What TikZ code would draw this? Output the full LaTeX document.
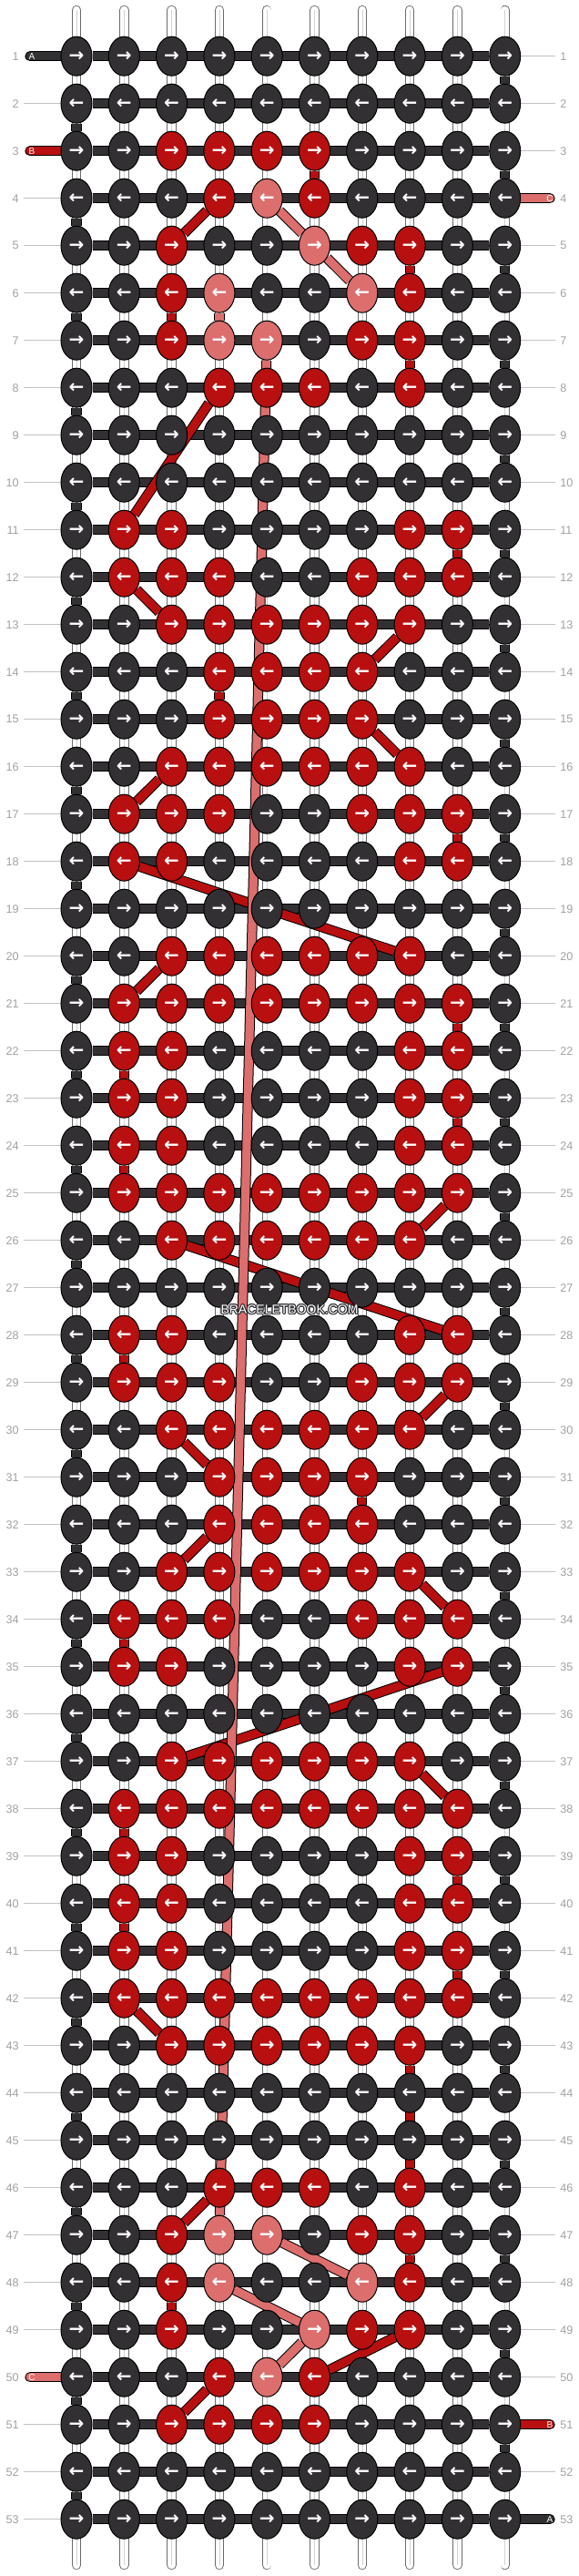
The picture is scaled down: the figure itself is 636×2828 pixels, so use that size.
\documentclass[tikz,border=0pt]{standalone}
\usepackage{fontspec}
\setmainfont{Liberation Sans}
\newfontfamily\arrowfont{DejaVu Sans}
\usepackage{contour}
\contourlength{0.45pt}
\usetikzlibrary{shapes.geometric}

\definecolor{knotdark}{HTML}{323033}
\definecolor{knotred}{HTML}{B80F10}
\definecolor{knotpink}{HTML}{DC6E6E}
\definecolor{labgray}{HTML}{A0A0A0}
\definecolor{labline}{HTML}{C2C2C2}
\definecolor{warpline}{HTML}{6A6A6A}

\pgfdeclarelayer{back}
\pgfdeclarelayer{mid}
\pgfsetlayers{back,mid,main}

% colour of knot (row, column)
\newcommand{\setknot}[3]{\expandafter\xdef\csname kc-#1-#2\endcsname{#3}}

\begin{document}
\begin{tikzpicture}[
    x=0.5pt, y=-0.5pt,
    knot/.style={ellipse,draw=black,line width=0.5pt,minimum width=17pt,minimum height=21.5pt,
        inner sep=0pt,text=white,font=\arrowfont\bfseries\fontsize{10}{10}\selectfont},
    rowlab/.style={text=labgray,font=\fontsize{6.3}{7}\selectfont,inner xsep=2.5pt,inner ysep=0pt},
    labrule/.style={draw=labline,line width=0.5pt},
    thread/.style={line width=0.5pt,draw=black,double distance=4.6pt},
    darkthread/.style={thread,double=knotdark},
    redthread/.style={thread,double=knotred},
    pinkthread/.style={thread,double=knotpink},
    stub/.style={line cap=round},
    stublab/.style={text=white,font=\fontsize{5}{5}\selectfont,inner sep=0pt},
    warp/.style={line width=0.45pt,draw=warpline,double=white,double distance=4.3pt,line cap=round},
    warpmid/.style={draw=gray!35,line width=0.3pt},
    wmtext/.style={font=\fontsize{7}{7}\selectfont,text=white,inner sep=0pt},
]
\useasboundingbox (0,0) rectangle (636,2828);

% knot colours
\foreach \r/\cols in {3/{3,4,5,6},4/{4,6},5/{3,7,8},6/{3,8},7/{3,7,8},8/{4,5,6,8},
    11/{2,3,8,9},12/{2,3,4,7,8,9},13/{3,...,8},14/{4,...,7},15/{4,...,7},16/{3,...,8},
    17/{2,3,4,7,8,9},18/{2,3,8,9},20/{3,...,8},21/{2,...,9},22/{2,3,8,9},23/{2,3,8,9},
    24/{2,3,8,9},25/{2,...,9},26/{3,...,8},28/{2,3,8,9},29/{2,3,4,7,8,9},30/{3,...,8},
    31/{4,...,7},32/{4,...,7},33/{3,...,8},34/{2,3,4,7,8,9},35/{2,3,8,9},37/{3,...,8},
    38/{2,...,9},39/{2,3,8,9},40/{2,3,8,9},41/{2,3,8,9},42/{2,...,9},43/{3,...,8},
    46/{4,5,6,8},47/{3,7,8},48/{3,8},49/{3,7,8},50/{4,6},51/{3,4,5,6}}
    {\foreach \c in \cols {\setknot{\r}{\c}{knotred}}}
\foreach \r/\cols in {4/{5},5/{6},6/{4,7},7/{4,5},47/{4,5},48/{4,7},49/{6},50/{5}}
    {\foreach \c in \cols {\setknot{\r}{\c}{knotpink}}}

% knots
\foreach \r in {1,...,53} {
    \pgfmathtruncatemacro\odd{mod(\r,2)}
    \ifnum\odd=1 \def\arr{→}\else\def\arr{←}\fi
    \foreach \c in {1,...,10} {
        \ifcsname kc-\r-\c\endcsname \edef\kcol{\csname kc-\r-\c\endcsname}\else\def\kcol{knotdark}\fi
        \node[knot,fill=\kcol] (k-\r-\c) at ({84+52.3*(\c-1)},{61.7+52*(\r-1)}) {\arr};
    }
}

% row numbers
\foreach \r in {1,...,53} {
    \node[rowlab,anchor=east] (ll-\r) at (26,{61.7+52*(\r-1)}) {\r};
    \node[rowlab,anchor=west] (lr-\r) at (610,{61.7+52*(\r-1)}) {\r};
}

% string ends
\coordinate (A-in) at (33,0 |- k-1-1);
\coordinate (B-in) at (33,0 |- k-3-1);
\coordinate (C-in) at (604,0 |- k-4-10);
\coordinate (C-out) at (33,0 |- k-50-1);
\coordinate (B-out) at (604,0 |- k-51-10);
\coordinate (A-out) at (604,0 |- k-53-10);

\begin{pgfonlayer}{back}
    \foreach \c in {1,...,10} {
        \coordinate (wt-\c) at ({84+52.3*(\c-1)},11);
        \coordinate (wb-\c) at ({84+52.3*(\c-1)},2816);
        \draw[warp] (wt-\c) -- (wb-\c);
        \draw[warpmid] (wt-\c) -- (wb-\c);
    }
    \foreach \r in {1,...,53}
        \draw[darkthread] (k-\r-1) -- (k-\r-10);
    \foreach \r in {2,4,5,...,49,51,52,53}
        \draw[labrule] (ll-\r) -- (k-\r-1);
    \foreach \r in {1,2,3,5,6,...,50,52}
        \draw[labrule] (k-\r-10) -- (lr-\r);
\end{pgfonlayer}

\begin{pgfonlayer}{mid}
    % turns of the base string
    \foreach \r in {1,3,...,51} {
        \pgfmathtruncatemacro\rn{\r+1}
        \draw[darkthread] (k-\r-10) -- (k-\rn-10);
    }
    \foreach \r in {2,4,...,52} {
        \pgfmathtruncatemacro\rn{\r+1}
        \draw[darkthread] (k-\r-1) -- (k-\rn-1);
    }
    % red string
    \foreach \ra/\ca/\rb/\cb in {3/6/4/6,4/4/5/3,5/8/6/8,6/3/7/3,7/8/8/8,8/4/11/2,11/9/12/9,
        12/2/13/3,13/8/14/7,14/4/15/4,15/7/16/8,16/3/17/2,17/9/18/9,18/2/20/8,20/3/21/2,
        21/9/22/9,22/2/23/2,23/9/24/9,24/2/25/2,25/9/26/8,26/3/28/9,28/2/29/2,29/9/30/8,
        30/3/31/4,31/7/32/7,32/4/33/3,33/8/34/9,34/2/35/2,35/9/37/3,37/8/38/9,38/2/39/2,
        39/9/40/9,40/2/41/2,41/9/42/9,42/2/43/3,43/8/46/8,46/4/47/3,47/8/48/8,48/3/49/3,
        49/8/50/6,50/4/51/3}
        \draw[redthread] (k-\ra-\ca) -- (k-\rb-\cb);
    % pink string
    \foreach \ra/\ca/\rb/\cb in {4/5/5/6,5/6/6/7,6/4/7/4,7/5/47/4,47/5/48/7,48/4/49/6,49/6/50/5}
        \draw[pinkthread] (k-\ra-\ca) -- (k-\rb-\cb);
    % loose ends
    \draw[darkthread,stub] (A-in) -- (k-1-1);
    \draw[redthread,stub] (B-in) -- (k-3-1);
    \draw[pinkthread,stub] (C-in) -- (k-4-10);
    \draw[pinkthread,stub] (C-out) -- (k-50-1);
    \draw[redthread,stub] (B-out) -- (k-51-10);
    \draw[darkthread,stub] (A-out) -- (k-53-10);
\end{pgfonlayer}

\node[stublab] (lab-A-in) at ([xshift=1pt]A-in) {A};
\node[stublab] (lab-B-in) at ([xshift=1pt]B-in) {B};
\node[stublab] (lab-C-in) at (C-in) {C};
\node[stublab] (lab-C-out) at ([xshift=1pt]C-out) {C};
\node[stublab] (lab-B-out) at (B-out) {B};
\node[stublab] (lab-A-out) at (A-out) {A};

\node[wmtext] (watermark) at (318,1438) {\contour{knotdark}{BRACELETBOOK.COM}};
\end{tikzpicture}
\end{document}
